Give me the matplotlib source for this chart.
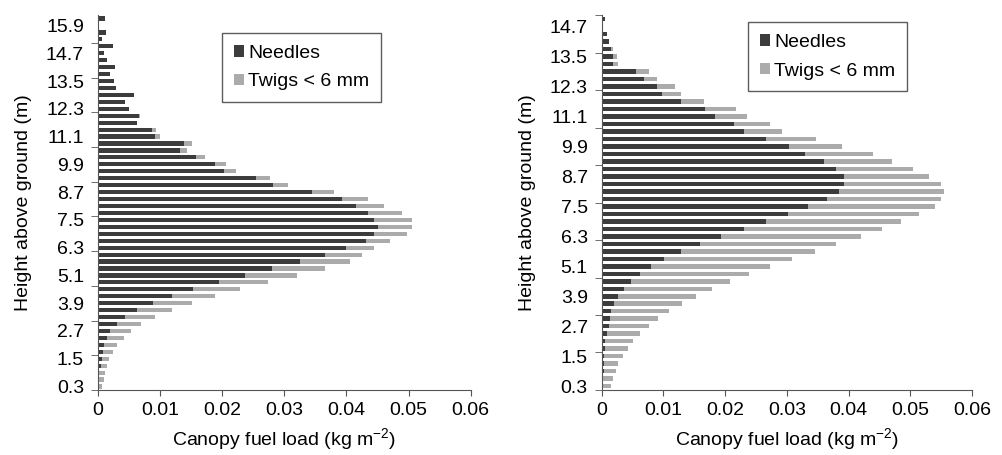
import numpy as np
import matplotlib.pyplot as plt

plt.rcParams['font.family'] = ['Liberation Sans', 'DejaVu Sans']
plt.rcParams['mathtext.fontset'] = 'custom'
plt.rcParams['mathtext.rm'] = 'Liberation Sans'
plt.rcParams['mathtext.it'] = 'Liberation Sans'

# heights (m), bottom to top, 0.3 m layers
heights_a = [round(0.3 * (i + 1), 1) for i in range(54)]   # 0.3 .. 16.2
heights_b = [round(0.3 * (i + 1), 1) for i in range(50)]   # 0.3 .. 15.0

# left stand: needles and twigs (kg m-2)
needles_a = [0.0000, 0.0000, 0.0002, 0.0005, 0.0006, 0.0008, 0.0009, 0.0014, 0.0020, 0.0030,
             0.0044, 0.0062, 0.0088, 0.0119, 0.0153, 0.0194, 0.0237, 0.0280, 0.0325, 0.0365,
             0.0400, 0.0432, 0.0445, 0.0450, 0.0445, 0.0435, 0.0415, 0.0393, 0.0345, 0.0281,
             0.0254, 0.0203, 0.0189, 0.0158, 0.0132, 0.0139, 0.0092, 0.0087, 0.0063, 0.0066,
             0.0050, 0.0044, 0.0058, 0.0029, 0.0025, 0.0019, 0.0027, 0.0014, 0.0010, 0.0024,
             0.0006, 0.0013, 0.0000, 0.0011]
twigs_a = [0.0006, 0.0009, 0.0009, 0.0009, 0.0012, 0.0016, 0.0021, 0.0028, 0.0033, 0.0040,
           0.0048, 0.0057, 0.0063, 0.0069, 0.0076, 0.0079, 0.0083, 0.0085, 0.0080, 0.0060,
           0.0045, 0.0038, 0.0053, 0.0055, 0.0060, 0.0055, 0.0045, 0.0042, 0.0035, 0.0025,
           0.0023, 0.0019, 0.0017, 0.0014, 0.0011, 0.0012, 0.0008, 0.0007, 0.0000, 0.0002,
           0.0000, 0.0000, 0.0000, 0.0000, 0.0000, 0.0000, 0.0000, 0.0000, 0.0000, 0.0000,
           0.0000, 0.0000, 0.0000, 0.0000]

# right stand
needles_b = [0.0002, 0.0002, 0.0003, 0.0003, 0.0004, 0.0005, 0.0006, 0.0008, 0.0012, 0.0014,
             0.0015, 0.0020, 0.0026, 0.0036, 0.0047, 0.0062, 0.0080, 0.0101, 0.0129, 0.0159,
             0.0193, 0.0231, 0.0267, 0.0302, 0.0335, 0.0365, 0.0385, 0.0393, 0.0393, 0.0380,
             0.0360, 0.0330, 0.0304, 0.0267, 0.0230, 0.0214, 0.0184, 0.0167, 0.0129, 0.0098,
             0.0090, 0.0068, 0.0056, 0.0018, 0.0019, 0.0015, 0.0012, 0.0009, 0.0000, 0.0005]
twigs_b = [0.0013, 0.0017, 0.0020, 0.0024, 0.0030, 0.0037, 0.0045, 0.0054, 0.0064, 0.0078,
           0.0094, 0.0110, 0.0127, 0.0143, 0.0161, 0.0177, 0.0193, 0.0207, 0.0216, 0.0221,
           0.0227, 0.0224, 0.0218, 0.0213, 0.0205, 0.0185, 0.0170, 0.0157, 0.0137, 0.0125,
           0.0110, 0.0110, 0.0086, 0.0080, 0.0062, 0.0059, 0.0051, 0.0050, 0.0037, 0.0031,
           0.0029, 0.0021, 0.0020, 0.0008, 0.0006, 0.0004, 0.0000, 0.0000, 0.0000, 0.0000]

dark = '#3c3c3c'
light = '#ababab'
fs = 14


def panel(ax, heights, needles, twigs, legend_box):
    y = np.arange(len(heights))
    ax.barh(y, needles, height=0.6, color=dark, label='Needles')
    ax.barh(y, twigs, left=needles, height=0.6, color=light, label='Twigs < 6 mm')
    ax.set_ylim(-0.5, len(heights) - 0.5)
    ax.set_xlim(0, 0.06)
    ax.set_xticks([0, 0.01, 0.02, 0.03, 0.04, 0.05, 0.06])
    ax.set_xticklabels(['0', '0.01', '0.02', '0.03', '0.04', '0.05', '0.06'])
    ax.set_yticks(y[::4])
    ax.set_yticklabels([f'{h:.1f}' for h in heights[::4]])
    ax.set_yticks(np.arange(-0.5, len(heights), 5), minor=True)
    ax.tick_params(axis='y', which='major', length=0, pad=10, labelsize=fs)
    ax.tick_params(axis='y', which='minor', length=5, direction='out', color='#555555')
    ax.tick_params(axis='x', length=4, direction='out', labelsize=fs, color='#555555', pad=5)
    for s in ['top', 'right']:
        ax.spines[s].set_visible(False)
    for s in ['left', 'bottom']:
        ax.spines[s].set_color('#555555')
    ax.set_xlabel(r'Canopy fuel load (kg m$^{\mathregular{-2}}$)', fontsize=fs, labelpad=5)
    ax.set_ylabel('Height above ground (m)', fontsize=fs, labelpad=10)
    leg = ax.legend(loc='upper left', bbox_to_anchor=legend_box, frameon=True, fancybox=False,
                    edgecolor='#333333', fontsize=fs, handlelength=0.55, handleheight=0.55,
                    handletextpad=0.2, borderpad=0.6, labelspacing=0.6, borderaxespad=0)
    leg.get_frame().set_linewidth(1.0)


fig = plt.figure(figsize=(10.03, 4.55), dpi=100)
ax1 = fig.add_axes([0.0977, 0.1429, 0.3716, 0.824])
ax2 = fig.add_axes([0.5999, 0.1429, 0.3691, 0.824])

panel(ax1, heights_a, needles_a, twigs_a, (0.333, 0.952))
panel(ax2, heights_b, needles_b, twigs_b, (0.395, 0.981))

fig.savefig('out.png', dpi=100)
